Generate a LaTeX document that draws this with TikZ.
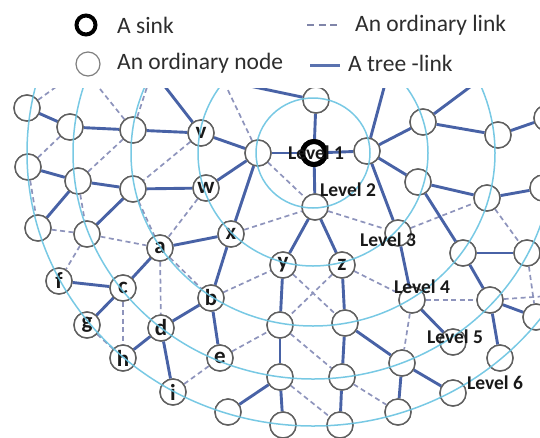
\documentclass[tikz,border=0pt]{standalone}
\usepackage{fontspec}
\setmainfont{Carlito}
\definecolor{treec}{RGB}{72,98,166}
\definecolor{ordc}{RGB}{142,148,188}
\definecolor{arcc}{RGB}{105,195,225}
\definecolor{ndc}{RGB}{95,95,95}
\definecolor{txtc}{RGB}{25,25,25}
\definecolor{legc}{RGB}{45,45,45}
\begin{document}
\begin{tikzpicture}[x=1pt,y=-1pt,
  tree/.style={draw=treec, line width=2.9pt},
  ord/.style={draw=ordc, line width=1.7pt, dash pattern=on 5pt off 3.5pt},
  lvl/.style={draw=arcc, line width=1.5pt, opacity=0.9},
  nd/.style={circle, draw=ndc, line width=1.4pt, fill=white, minimum size=26pt, inner sep=0pt,
    font=\fontsize{23}{23}\selectfont\bfseries, text=txtc},
  sinkst/.style={circle, draw=black, line width=5pt, fill=white, minimum size=23pt, inner sep=0pt},
  lvltxt/.style={font=\fontsize{19.5}{20}\selectfont\bfseries, text=txtc, inner sep=0pt},
  legtxt/.style={font=\fontsize{23.5}{26}\selectfont, text=legc, anchor=west, inner sep=0pt}
]
\useasboundingbox (0,0) rectangle (540,437);
% ---------------- legend ----------------
\node[circle, draw=black, line width=4pt, minimum size=19pt, inner sep=0pt] (lgsink) at (86,25) {};
\node[circle, draw=ndc!80, line width=1.2pt, minimum size=24pt, inner sep=0pt] (lgnode) at (88,64) {};
\node[legtxt] (lgt1) at (117,25) {A sink};
\node[legtxt] (lgt2) at (117,63) {An ordinary node};
\coordinate (lgd1) at (307,25);
\coordinate (lgd2) at (341,25);
\draw[draw=ordc!90!black, line width=1.4pt, dash pattern=on 7pt off 4.5pt] (lgd1) -- (lgd2);
\node[legtxt] (lgt3) at (355,25) {An ordinary link};
\coordinate (lgs1) at (310,65);
\coordinate (lgs2) at (340,65);
\draw[draw=treec!90!white, line width=3pt] (lgs1) -- (lgs2);
\node[legtxt] (lgt4) at (348,63) {A tree -link};
% ---------------- network ----------------
\begin{scope}
\clip (0,88) rectangle (540,437);
\coordinate (ctr) at (313,153);
\node[sinkst] (S) at (314,153) {};
\node[nd] (L1a) at (258,153) {};
\node[nd] (L1t) at (316,100) {};
\node[nd] (L1r) at (367,151) {};
\node[nd] (L1b) at (315,207) {};
\node[nd] (n1) at (27,108) {};
\node[nd] (n2) at (70,127) {};
\node[nd] (n3) at (133,130) {};
\node[nd] (nv) at (201,133) {v};
\node[nd] (n5) at (28,167) {};
\node[nd] (n6) at (78,181) {};
\node[nd] (n7) at (133,189) {};
\node[nd] (nw) at (206,188) {w};
\node[nd] (n8) at (38,228) {};
\node[nd] (n9) at (87,234) {};
\node[nd] (na) at (160,248) {a};
\node[nd] (nx) at (231,234) {x};
\node[nd] (ny) at (283,265) {y};
\node[nd] (nz) at (342,265) {z};
\node[nd] (nf) at (59,281) {f};
\node[nd] (nc) at (123,288) {c};
\node[nd] (ng) at (87,325) {g};
\node[nd] (nh) at (123,358) {h};
\node[nd] (nb) at (211,298) {b};
\node[nd] (nd) at (161,328) {d};
\node[nd] (ne) at (220,358) {e};
\node[nd] (ni) at (173,392) {i};
\node[nd] (p1) at (228,412) {};
\node[nd] (q1) at (280,325) {};
\node[nd] (q2) at (345,323) {};
\node[nd] (q3) at (280,377) {};
\node[nd] (q4) at (342,377) {};
\node[nd] (q5) at (283,425) {};
\node[nd] (q6) at (340,425) {};
\node[nd] (r1) at (423,122) {};
\node[nd] (r2) at (498,135) {};
\node[nd] (r3) at (547,118) {};
\node[nd] (r4) at (418,182) {};
\node[nd] (r5) at (487,198) {};
\node[nd] (r6) at (543,188) {};
\node[nd] (L3) at (398,233) {};
\node[nd] (r7) at (463,253) {};
\node[nd] (r8) at (527,253) {};
\node[nd] (L4) at (412,300) {};
\node[nd] (r9) at (490,300) {};
\node[nd] (r10) at (536,317) {};
\node[nd] (L5) at (453,342) {};
\node[nd] (r11) at (500,358) {};
\node[nd] (s1) at (402,363) {};
\node[nd] (s2) at (453,393) {};
\node[nd] (s3) at (398,412) {};
% free ends at the cut edges
\coordinate (t1) at (60,84);
\coordinate (t2) at (96,84);
\coordinate (t3) at (148,84);
\coordinate (t4) at (163,84);
\coordinate (t5) at (225,84);
\coordinate (t6) at (240,84);
\coordinate (t7) at (385,84);
\coordinate (t8) at (474,84);
\coordinate (e1) at (548,296);
% ordinary links
\foreach \p/\q in {n2/n5, n3/n6, nv/n7, nw/na, n8/n9, n9/na, n5/n8, n6/n9, n9/nf, n7/na,
  na/nb, na/nd, nc/nh, ng/nh, ni/ne, nb/ny, ne/q1, L1a/L1b, nx/L1b, L1b/L3, L3/r5, r5/r8,
  ny/q2, nz/q1, q1/q4, q3/q6, nz/L4, L4/r9, L4/s1, q4/s3, r8/r10,
  n1/t1, n3/t2, n3/t3, L1a/t5, r9/e1}
  \draw[ord] (\p) -- (\q);
% tree links
\foreach \p/\q in {n1/n2, n2/n3, n3/nv, nv/L1a, L1a/nw, nw/n7, n7/n6, n6/n5, n6/n8, n7/n9,
  L1a/nx, nx/na, na/nc, nc/nf, nc/ng, nh/nd, nd/nb, nb/nx, nb/ne, nd/ni,
  S/L1a, S/L1t, S/L1r, S/L1b, L1b/ny, L1b/nz, ny/q1, nz/q2, q1/q3, q2/q4, q3/p1, q3/q5, q4/q6,
  q2/s1, s1/s2, s1/s3, L1r/r1, r1/r2, r2/r3, L1r/r4, r4/r5, r5/r6, L1r/L3, r4/r7, r7/r8,
  r7/r9, r9/r11, r9/r10, L3/L4, L4/L5,
  nv/t4, L1t/t6, L1r/t7, r1/t8}
  \draw[tree] (\p) -- (\q);
% redraw nodes on top of links
\node[sinkst] at (S) {};
\foreach \m in {L1a,L1t,L1r,L1b,n1,n2,n3,n5,n6,n7,n8,n9,p1,q1,q2,q3,q4,q5,q6,r1,r2,r3,r4,r5,r6,L3,r7,r8,L4,r9,r10,L5,r11,s1,s2,s3}
  \node[nd] at (\m) {};
\foreach \m/\t in {nv/v,nw/w,na/a,nx/x,ny/y,nz/z,nf/f,nc/c,ng/g,nh/h,nb/b,nd/d,ne/e,ni/i}
  \node[nd] at (\m) {\t};
% level ellipses
\draw[lvl] (ctr) ellipse [x radius=57pt, y radius=55pt];
\draw[lvl] (ctr) ellipse [x radius=115pt, y radius=113pt];
\draw[lvl] (ctr) ellipse [x radius=182pt, y radius=173pt];
\draw[lvl] (ctr) ellipse [x radius=240pt, y radius=226pt];
\draw[lvl] (ctr) ellipse [x radius=286pt, y radius=273pt];
% level labels
\node[lvltxt] (lv1) at (316,153) {Level 1};
\node[lvltxt] (lv2) at (348,190) {Level 2};
\node[lvltxt] (lv3) at (388,240) {Level 3};
\node[lvltxt] (lv4) at (422,287) {Level 4};
\node[lvltxt] (lv5) at (455,337) {Level 5};
\node[lvltxt] (lv6) at (495,383) {Level 6};
\end{scope}
\end{tikzpicture}
\end{document}
